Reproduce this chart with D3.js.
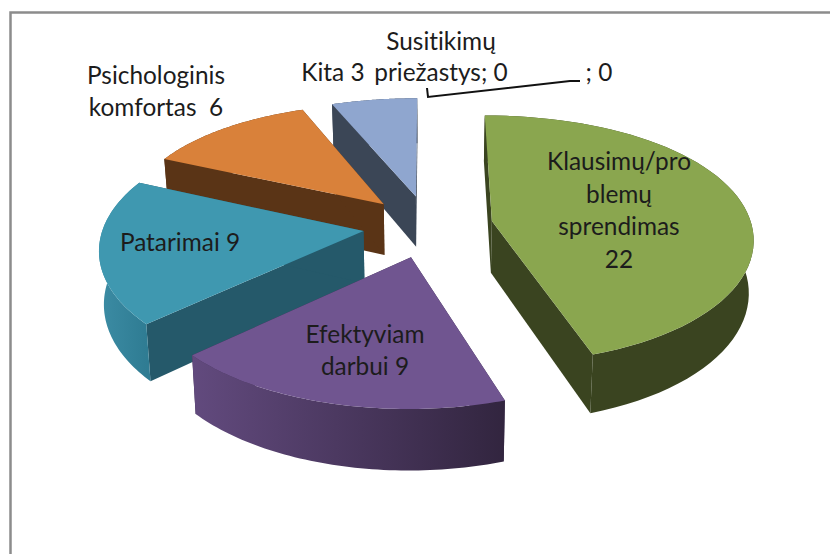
<!DOCTYPE html>
<html>
<head>
<meta charset="utf-8">
<script src="https://cdn.jsdelivr.net/npm/d3@7"></script>
<style>
	html, body { margin: 0; padding: 0; background: #fff; }
	svg { display: block; }
	text { font-family: Lato, "Open Sans", sans-serif; font-size: 24.4px; fill: #1c1c1c; font-variant-ligatures: none; }
</style>
</head>
<body>
<svg id="chart" width="830" height="554"></svg>
<script>
;(function(d3) {
	"use strict";

	// In pie order (clockwise from the top)
	var categories = ["Klausimų/problemų sprendimas", "Efektyviam darbui", "Patarimai", "Psichologinis komfortas", "Kita", "Susitikimų priežastys", ""];
	var values = [22, 9, 9, 6, 3, 0, 0];

	var topColors = ["#8aa64f", "#705590", "#3f98b0", "#d9813a", "#8fa6cf"];
	var wallColors = ["#3a4420", "#3a2b4c", "#25596a", "#5a3416", "#3b4656"];
	var rimColors = [["#3a4420", "#3a4420"], ["#624a7e", "#32253f"], ["#3c8ca4", "#2f7c93"], ["#5a3416", "#5a3416"], ["#3b4656", "#3b4656"]];

	// Projection of the tilted pie plane
	var cx = 428, cy = 226,
		rx = 260, ry = 125,
		perspective = 0.125,
		perspectiveY = 0.144,
		explode = 0.25,
		depth = 52,
		bottomShrink = 0.985;

	var svg = d3.select("#chart");
	var defs = svg.append("defs");

	function project(u, v, lower) {
		var s = 1 / (1 - perspective * v),
			y = cy + ry * v * (1 + perspectiveY * v);
		if (lower)
			return [cx + rx * u * s * bottomShrink, y + depth * s];
		return [cx + rx * u * s, y];
	}

	var pie = d3.pie().sort(null).value(function(d) { return d; });
	var arcs = pie(values);
	var line = d3.line();

	// Frame of the chart area, open at the right and at the bottom
	svg.append("path")
		.attr("d", line([[10.5, 554], [10.5, 12.5], [830, 12.5]]))
		.attr("fill", "none")
		.attr("stroke", "#8c8c8c")
		.attr("stroke-width", 2.5);

	// Painter's order, back slices first
	var drawOrder = [4, 3, 2, 0, 1];

	drawOrder.forEach(function(i) {
		var d = arcs[i];
		var mid = (d.startAngle + d.endAngle) / 2;
		var ax = explode * Math.sin(mid),
			ay = -explode * Math.cos(mid);

		var steps = d3.range(0, 61).map(function(k) {
			var a = d.startAngle + (d.endAngle - d.startAngle) * k / 60;
			return [ax + Math.sin(a), ay - Math.cos(a)];
		});

		var upperArc = steps.map(function(p) { return project(p[0], p[1], false); });
		var lowerArc = steps.map(function(p) { return project(p[0], p[1], true); });
		var apexUp = project(ax, ay, false),
			apexDown = project(ax, ay, true);

		var g = svg.append("g").attr("class", "slice slice-" + i);

		// Radial walls
		[0, upperArc.length - 1].forEach(function(k) {
			g.append("path")
				.attr("d", line([apexUp, upperArc[k], lowerArc[k], apexDown]) + "Z")
				.attr("fill", wallColors[i]);
		});

		// Outer rim, shaded left to right
		var xs = d3.extent(upperArc, function(p) { return p[0]; });
		var gradId = "rim" + i;
		var grad = defs.append("linearGradient")
			.attr("id", gradId)
			.attr("gradientUnits", "userSpaceOnUse")
			.attr("x1", xs[0]).attr("x2", xs[1])
			.attr("y1", 0).attr("y2", 0);
		grad.append("stop").attr("offset", "0").attr("stop-color", rimColors[i][0]);
		grad.append("stop").attr("offset", "1").attr("stop-color", rimColors[i][1]);

		g.append("path")
			.attr("d", line(upperArc.concat(lowerArc.slice().reverse())) + "Z")
			.attr("fill", "url(#" + gradId + ")");

		// Top face
		g.append("path")
			.attr("d", line([apexUp].concat(upperArc)) + "Z")
			.attr("fill", topColors[i]);
	});

	// Leader line of the zero slices
	svg.append("path")
		.attr("d", d3.line()([[427, 88], [428, 97], [570, 81], [580, 81]]))
		.attr("fill", "none")
		.attr("stroke", "#111")
		.attr("stroke-width", 2);

	// Label text as wrapped in the original chart
	var labelText = [
		["Klausimų/pro", "blemų", "sprendimas", "22"],
		["Efektyviam", "darbui 9"],
		["Patarimai 9"],
		["Psichologinis", "komfortas  6"],
		["Kita 3"],
		["Susitikimų", "priežastys; 0"],
		["; 0"]
	];
	var labelAnchor = [[619, 170], [365, 343], [180, 251], [156, 84], [333, 81], [441, 50], [599, 81]];
	var labelLeading = [32.5, 32, 32, 32, 32, 31, 32];

	labelText.forEach(function(lines, i) {
		var t = svg.append("text")
			.attr("class", "label")
			.attr("text-anchor", "middle")
			.style("white-space", "pre");
		lines.forEach(function(s, j) {
			t.append("tspan")
				.attr("x", labelAnchor[i][0])
				.attr("y", labelAnchor[i][1] + j * labelLeading[i])
				.text(s);
		});
	});
})(d3);
</script>
</body>
</html>
